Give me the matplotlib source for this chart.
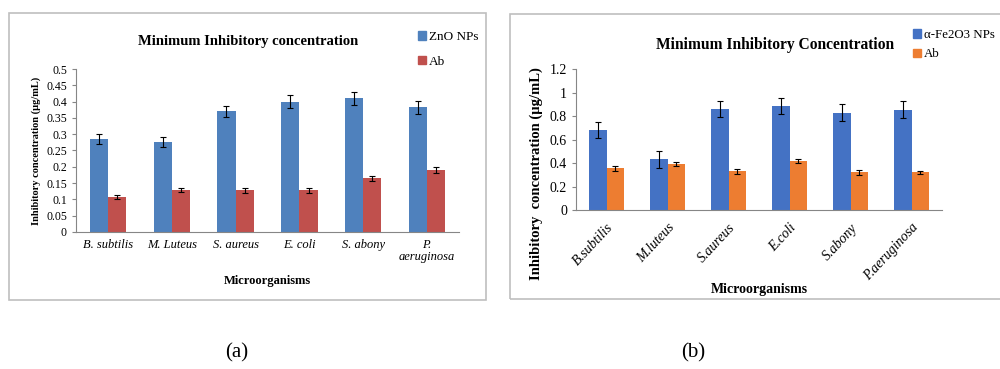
import matplotlib.pyplot as plt
import matplotlib.patches as mpatches
import numpy as np

plt.rcParams['font.family'] = ['Liberation Serif', 'DejaVu Serif']

# panel (a) data
organisms_a = ["B. subtilis", "M. Luteus", "S. aureus", "E. coli", "S. abony", "P.\naeruginosa"]
zno = [0.285, 0.275, 0.370, 0.400, 0.410, 0.382]
zno_err = [0.015, 0.015, 0.018, 0.020, 0.020, 0.020]
ab_a = [0.108, 0.130, 0.128, 0.128, 0.165, 0.190]
ab_a_err = [0.006, 0.006, 0.007, 0.007, 0.008, 0.010]

# panel (b) data
organisms_b = ["B.subtilis", "M.luteus", "S.aureus", "E.coli", "S.abony", "P.aeruginosa"]
fe2o3 = [0.68, 0.43, 0.86, 0.885, 0.83, 0.855]
fe2o3_err = [0.07, 0.07, 0.07, 0.07, 0.07, 0.07]
ab_b = [0.355, 0.39, 0.33, 0.415, 0.32, 0.32]
ab_b_err = [0.02, 0.015, 0.02, 0.015, 0.02, 0.015]

fig = plt.figure(figsize=(10, 3.69), dpi=100)

# grey frames around each chart
for x0, y0, w, h in [(0.009, 0.187, 0.477, 0.778), (0.510, 0.190, 0.500, 0.772)]:
    fig.patches.append(mpatches.Rectangle((x0, y0), w, h, transform=fig.transFigure,
                                          fill=False, edgecolor='#BFBFBF', lw=1.2))


def bar_panel(ax, labels, s1, e1, s2, e2, c1, c2, w):
    x = np.arange(len(labels))
    ax.bar(x - w / 2, s1, w, color=c1, yerr=e1, capsize=2.5,
           error_kw=dict(lw=0.8, capthick=0.8, ecolor='black'))
    ax.bar(x + w / 2, s2, w, color=c2, yerr=e2, capsize=2.5,
           error_kw=dict(lw=0.8, capthick=0.8, ecolor='black'))
    ax.set_xlim(-0.5, len(labels) - 0.5)
    for s in ['top', 'right']:
        ax.spines[s].set_visible(False)
    ax.spines['left'].set_color('#868686')
    ax.spines['bottom'].set_color('#868686')
    ax.tick_params(axis='y', color='#868686', length=3)
    ax.tick_params(axis='x', length=0)
    ax.set_xticks(x)
    return x


# (a)
ax1 = fig.add_axes([0.076, 0.3713, 0.383, 0.4417])
bar_panel(ax1, organisms_a, zno, zno_err, ab_a, ab_a_err, '#4F81BD', '#C0504D', 0.285)
ax1.set_ylim(0, 0.5)
ax1.set_yticks(np.arange(0, 0.501, 0.05))
ax1.set_yticklabels(["0", "0.05", "0.1", "0.15", "0.2", "0.25", "0.3", "0.35", "0.4", "0.45", "0.5"],
                    fontsize=8.5)
ax1.set_xticklabels(organisms_a, fontsize=9, style='italic', linespacing=1.0)
ax1.tick_params(axis='x', pad=5)
ax1.set_ylabel("Inhibitory concentration (µg/mL)", fontsize=7.5, fontweight='bold', labelpad=4)
ax1.set_xlabel("Microorganisms", fontsize=9, fontweight='bold', labelpad=9)
fig.text(0.248, 0.888, "Minimum Inhibitory concentration", ha='center', va='center',
         fontsize=10.5, fontweight='bold')
h1 = mpatches.Patch(color='#4F81BD')
h2 = mpatches.Patch(color='#C0504D')
fig.legend([h1, h2], ["ZnO NPs", "Ab"], loc='upper left', bbox_to_anchor=(0.413, 0.93),
           frameon=False, fontsize=9.5, handlelength=0.6, handleheight=0.6,
           handletextpad=0.2, labelspacing=0.95, borderaxespad=0)

# (b)
ax2 = fig.add_axes([0.576, 0.4309, 0.366, 0.382])
bar_panel(ax2, organisms_b, fe2o3, fe2o3_err, ab_b, ab_b_err, '#4472C4', '#ED7D31', 0.28)
ax2.set_ylim(0, 1.2)
ax2.set_yticks(np.arange(0, 1.21, 0.2))
ax2.set_yticklabels(["0", "0.2", "0.4", "0.6", "0.8", "1", "1.2"], fontsize=10)
ax2.set_xticklabels(organisms_b, fontsize=10, style='italic', rotation=47,
                    ha='right', rotation_mode='anchor')
ax2.tick_params(axis='x', pad=8)
ax2.set_ylabel("Inhibitory  concentration (µg/mL)", fontsize=10.5, fontweight='bold',
               labelpad=4)
ax2.yaxis.set_label_coords(-0.09, 0.26)
ax2.set_xlabel("Microorganisms", fontsize=10, fontweight='bold', labelpad=0)
fig.text(0.775, 0.878, "Minimum Inhibitory Concentration", ha='center', va='center',
         fontsize=11.2, fontweight='bold')
h3 = mpatches.Patch(color='#4472C4')
h4 = mpatches.Patch(color='#ED7D31')
fig.legend([h3, h4], ["α-Fe2O3 NPs", "Ab"], loc='upper left', bbox_to_anchor=(0.908, 0.935),
           frameon=False, fontsize=9.3, handlelength=0.6, handleheight=0.6,
           handletextpad=0.2, labelspacing=0.55, borderaxespad=0)

# panel captions
fig.text(0.237, 0.045, "(a)", ha='center', va='center', fontsize=15)
fig.text(0.693, 0.045, "(b)", ha='center', va='center', fontsize=15)

fig.savefig("out.png", dpi=100)
